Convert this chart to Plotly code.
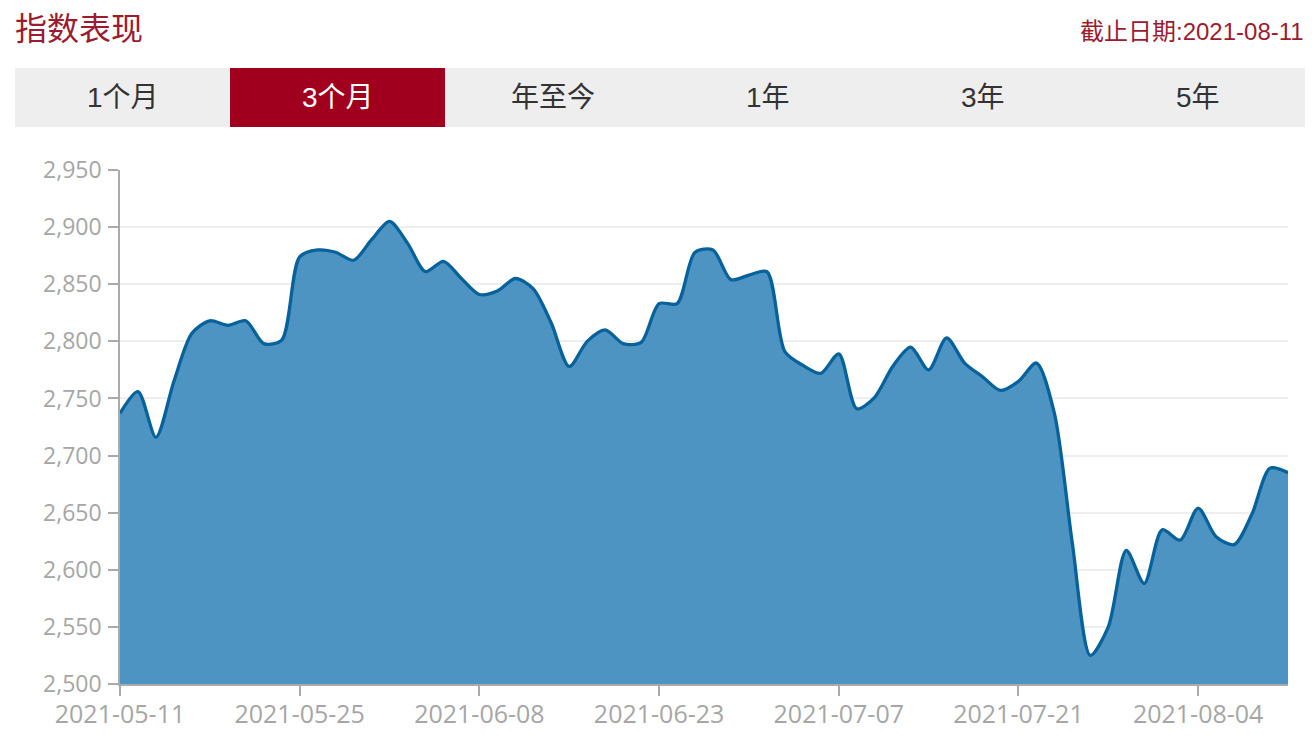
import plotly.graph_objects as go

dates = [
    "2021-05-11", "2021-05-12", "2021-05-13", "2021-05-14", "2021-05-17", "2021-05-18",
    "2021-05-19", "2021-05-20", "2021-05-21", "2021-05-24", "2021-05-25", "2021-05-26",
    "2021-05-27", "2021-05-28", "2021-05-31", "2021-06-01", "2021-06-02", "2021-06-03",
    "2021-06-04", "2021-06-07", "2021-06-08", "2021-06-09", "2021-06-10", "2021-06-11",
    "2021-06-15", "2021-06-16", "2021-06-17", "2021-06-18", "2021-06-21", "2021-06-22",
    "2021-06-23", "2021-06-24", "2021-06-25", "2021-06-28", "2021-06-29", "2021-06-30",
    "2021-07-01", "2021-07-02", "2021-07-05", "2021-07-06", "2021-07-07", "2021-07-08",
    "2021-07-09", "2021-07-12", "2021-07-13", "2021-07-14", "2021-07-15", "2021-07-16",
    "2021-07-19", "2021-07-20", "2021-07-21", "2021-07-22", "2021-07-23", "2021-07-26",
    "2021-07-27", "2021-07-28", "2021-07-29", "2021-07-30", "2021-08-02", "2021-08-03",
    "2021-08-04", "2021-08-05", "2021-08-06", "2021-08-09", "2021-08-10", "2021-08-11",
]

values = [
    2737, 2756, 2716, 2765, 2807, 2818, 2814, 2818, 2798, 2801,
    2874, 2880, 2878, 2871, 2889, 2905, 2886, 2861, 2870, 2855,
    2841, 2844, 2855, 2846, 2816, 2778, 2800, 2810, 2798, 2799,
    2833, 2833, 2878, 2880, 2854, 2858, 2861, 2791, 2779, 2772,
    2789, 2741, 2751, 2778, 2795, 2775, 2803, 2781, 2769, 2757,
    2765, 2781, 2737, 2623, 2525, 2550, 2617, 2588, 2635, 2626,
    2654, 2629, 2622, 2649, 2689, 2685,
]

x_tick_labels = ["2021-05-11", "2021-05-25", "2021-06-08", "2021-06-23",
                 "2021-07-07", "2021-07-21", "2021-08-04"]
y_ticks = [2500, 2550, 2600, 2650, 2700, 2750, 2800, 2850, 2900, 2950]

tabs = ["1个月", "3个月", "年至今", "1年", "3年", "5年"]
selected_tab = "3个月"
title_text = "指数表现"
date_text = "截止日期:2021-08-11"

# the page body margin is removed by the post script, so figure == screen
W, H = 1312, 735
PLOT_X0, PLOT_X1, PLOT_Y0, PLOT_Y1 = 120, 1288, 170, 684  # screen coords
L = PLOT_X0
R = W - PLOT_X1
T = PLOT_Y0
B = H - PLOT_Y1
PW, PH = W - L - R, H - T - B


def px(sx):
    return (sx - L) / PW


def py(sy):
    return (H - B - sy) / PH


FONT = "Open Sans, Noto Sans CJK SC, sans-serif"
CJK = "Liberation Sans, Noto Sans CJK SC, sans-serif"
RED = "#a0001e"

fig = go.Figure()
fig.add_trace(go.Scatter(
    x=dates, y=values, mode="lines",
    line=dict(color="#07629c", width=3.3, shape="spline", smoothing=0.8),
    fill="tozeroy", fillcolor="rgba(66,141,190,0.94)",
    hoverinfo="skip",
))

shapes = []
annotations = []
tab_w = 215
x0 = 15
for i, t in enumerate(tabs):
    a = x0 + i * tab_w
    b = a + tab_w
    sel = (t == selected_tab)
    shapes.append(dict(type="rect", xref="paper", yref="paper",
                       x0=px(a), x1=px(b), y0=py(127), y1=py(68),
                       fillcolor=RED if sel else "#eeeeee", line=dict(width=0),
                       layer="below"))
    annotations.append(dict(xref="paper", yref="paper", x=px((a + b) / 2), y=py(97),
                            text=t, showarrow=False, xanchor="center", yanchor="middle",
                            font=dict(family=CJK, size=28,
                                      color="#ffffff" if sel else "#333333")))

annotations.append(dict(xref="paper", yref="paper", x=px(13), y=py(29), text=title_text,
                        showarrow=False, xanchor="left", yanchor="middle",
                        font=dict(family=CJK, size=32, color="#9b1b30")))
annotations.append(dict(xref="paper", yref="paper", x=px(1306), y=py(31), text=date_text,
                        showarrow=False, xanchor="right", yanchor="middle",
                        font=dict(family=CJK, size=24, color="#9b1b30")))

fig.update_layout(
    width=W, height=H,
    margin=dict(l=L, r=R, t=T, b=B, pad=0, autoexpand=False),
    paper_bgcolor="white", plot_bgcolor="white",
    showlegend=False,
    shapes=shapes, annotations=annotations,
    xaxis=dict(type="category", range=[0, len(dates) - 1], automargin=False,
               tickmode="array", tickvals=x_tick_labels, ticktext=x_tick_labels,
               showgrid=False, showline=True, linecolor="#aaaaaa", linewidth=1.5,
               ticks="outside", ticklen=10, tickcolor="#aaaaaa", tickwidth=1.5,
               ticklabelstandoff=-3,
               tickfont=dict(family=FONT, size=25, color="#a6a6a6"),
               zeroline=False, fixedrange=True),
    yaxis=dict(range=[2500, 2950], tickmode="array", tickvals=y_ticks, automargin=False,
               tickformat=",d",
               showgrid=True, gridcolor="#eeeeee", gridwidth=1.5,
               showline=True, linecolor="#aaaaaa", linewidth=1.5,
               ticks="outside", ticklen=10, tickcolor="#aaaaaa", tickwidth=1.5,
               ticklabelstandoff=2,
               tickfont=dict(family=FONT, size=23, color="#a6a6a6"),
               zeroline=False, fixedrange=True),
)

fig.write_html(
    "out.html",
    config={"displayModeBar": False},
    post_script="document.body.style.margin='0';document.body.style.overflow='hidden';",
)
